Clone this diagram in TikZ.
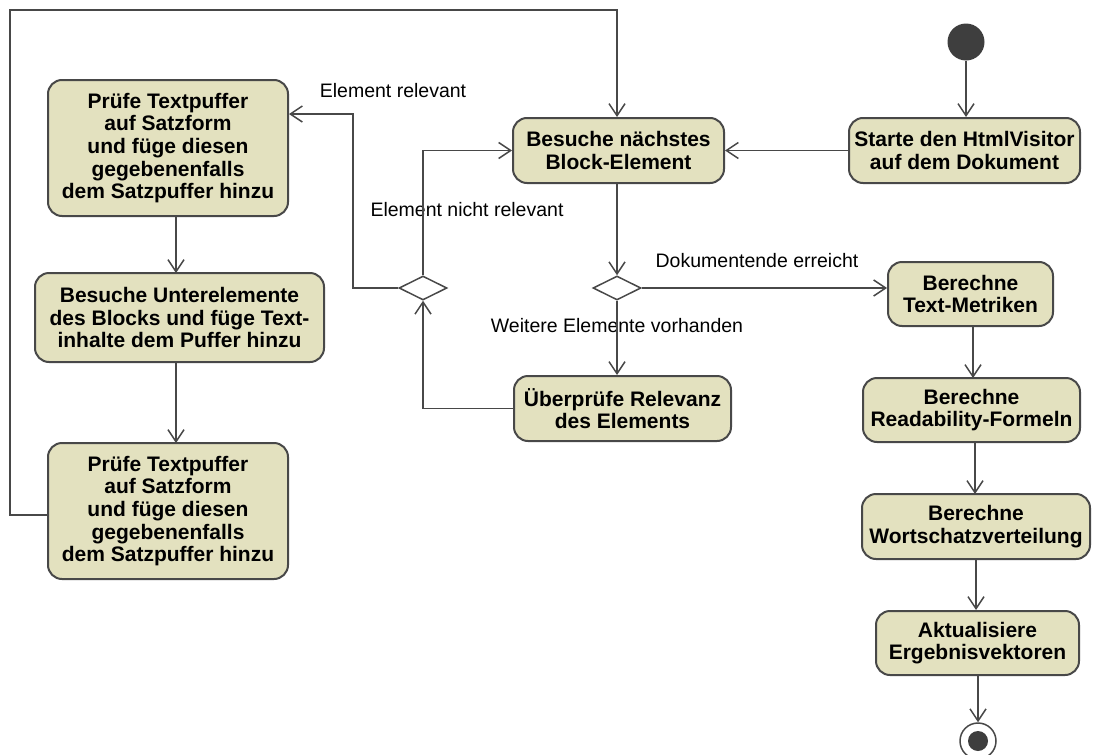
\documentclass[tikz,border=0pt]{standalone}
\usepackage{fontspec}
\setmainfont{Liberation Sans}
\usetikzlibrary{arrows.meta,shapes.geometric}
\definecolor{actfill}{RGB}{227,225,191}
\definecolor{bord}{RGB}{72,72,72}
\definecolor{dot}{RGB}{62,62,62}
\begin{document}
\begin{tikzpicture}[x=1pt,y=-1pt,
  act/.style={rectangle, rounded corners=14pt, draw=bord, fill=actfill,
    line width=2pt, align=center, inner sep=0pt,
    font=\fontsize{21}{22.6}\selectfont\bfseries},
  decision/.style={diamond, draw=bord, fill=white, line width=1.5pt,
    minimum width=48pt, minimum height=24pt, inner sep=0pt, aspect=2},
  flow/.style={draw=bord, line width=1.5pt,
    -{Straight Barb[length=12pt,width=16pt,line width=1.5pt]}},
  guard/.style={font=\fontsize{19.5}{22}\selectfont, inner sep=0pt}]
\useasboundingbox (0,0) rectangle (1093,755);

% start and end
\node[circle, fill=dot, minimum size=37pt, inner sep=0pt] (start) at (966,42) {};
\node[circle, draw=bord, fill=white, line width=1.5pt, minimum size=36pt, inner sep=0pt] (final) at (978,741) {};
\node[circle, fill=dot, minimum size=20pt, inner sep=0pt] at (final) {};

% activities
\node[act, minimum width=231pt, minimum height=65pt] (starte) at (964.5,150.5)
  {Starte den HtmlVisitor\\auf dem Dokument};
\node[act, minimum width=211pt, minimum height=65pt] (besuche) at (618.5,150.5)
  {Besuche nächstes\\Block-Element};
\node[act, minimum width=240pt, minimum height=136pt] (pruefA) at (168,148)
  {Prüfe Textpuffer\\auf Satzform\\und füge diesen\\gegebenenfalls\\dem Satzpuffer hinzu};
\node[act, minimum width=289pt, minimum height=89pt] (unter) at (179.5,317.5)
  {Besuche Unterelemente\\des Blocks und füge Text-\\inhalte dem Puffer hinzu};
\node[act, minimum width=240pt, minimum height=136pt] (pruefB) at (168,511)
  {Prüfe Textpuffer\\auf Satzform\\und füge diesen\\gegebenenfalls\\dem Satzpuffer hinzu};
\node[act, minimum width=217pt, minimum height=65pt] (ueber) at (622.5,408.5)
  {Überprüfe Relevanz\\des Elements};
\node[act, minimum width=165pt, minimum height=64pt] (metr) at (970.5,294)
  {Berechne\\Text-Metriken};
\node[act, minimum width=217pt, minimum height=64pt] (read) at (971.5,410)
  {Berechne\\Readability-Formeln};
\node[act, minimum width=228pt, minimum height=65pt] (wort) at (976,526.5)
  {Berechne\\Wortschatzverteilung};
\node[act, minimum width=203pt, minimum height=64pt] (aktu) at (977.5,643)
  {Aktualisiere\\Ergebnisvektoren};

% decisions
\node[decision] (dl) at (423,288) {};
\node[decision] (dr) at (617,288) {};

% bend points
\coordinate (relbend) at (353,114);
\coordinate (loopA) at (10,515);
\coordinate (loopB) at (10,10);
\coordinate (loopC) at (617,10);

% guards
\node[guard] (gRel) at (393,91) {Element relevant};
\node[guard] (gNicht) at (467,210) {Element nicht relevant};
\node[guard] (gEnde) at (757,261) {Dokumentende erreicht};
\node[guard] (gWeiter) at (617,326) {Weitere Elemente vorhanden};

% connectors
\draw[flow] (start) -- (start |- starte.north);
\draw[flow] (starte.west) -- (besuche.east);
\draw[flow] (besuche.south -| dr) -- (dr.north);
\draw[flow] (dr.east) -- (dr.east -| metr.west);
\draw[flow] (dr.south) -- (dr.south |- ueber.north);
\draw[flow] (ueber.west) -| (dl.south);
\draw[flow] (dl.north) |- (besuche.west);
\draw[flow] (dl.west) -| (relbend) -- (relbend -| pruefA.east);
\draw[flow] (176,216) -- (176,273);
\draw[flow] (176,362) -- (176,443);
\draw[flow] (pruefB.west |- loopA) -- (loopA) -- (loopB) -- (loopC) -- (loopC |- besuche.north);
\draw[flow] (973,326) -- (973,378);
\draw[flow] (975,442) -- (975,494);
\draw[flow] (wort.south) -- (wort.south |- aktu.north);
\draw[flow] (aktu.south -| final) -- (final.north);
\end{tikzpicture}
\end{document}
